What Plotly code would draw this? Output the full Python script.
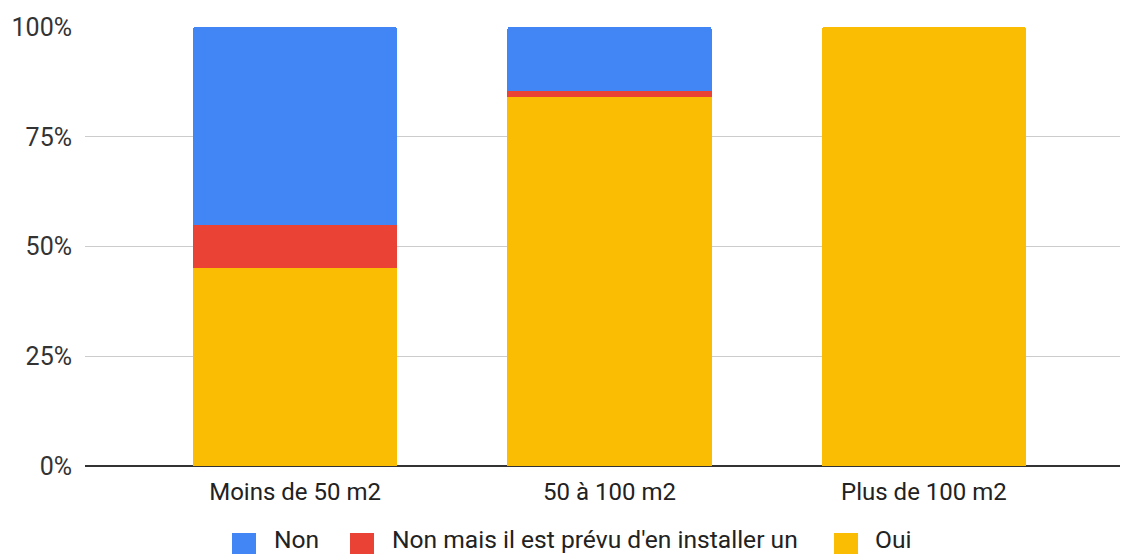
import plotly.graph_objects as go

categories = ["Moins de 50 m2", "50 à 100 m2", "Plus de 100 m2"]
oui = [45.0, 84.1, 100.0]
non_prevu = [10.0, 1.4, 0.0]
non = [45.0, 14.5, 0.0]
y_ticks = [0, 25, 50, 75, 100]
y_tick_labels = [f"{v}%" for v in y_ticks]

series = [
    ("Oui", oui, "#FBBC04"),
    ("Non mais il est prévu d'en installer un", non_prevu, "#EA4335"),
    ("Non", non, "#4285F4"),
]

# page has an 8px body margin; size the figure so it ends at the window edge
OFF = 8
W, H = 1128 - OFF, 554 - OFF
L, R, T, B = 85 - OFF, 0, 27 - OFF, 88
PW, PH = W - L - R, H - T - B


def px_x(sx):
    return (sx - OFF - L) / PW


def px_y(sy):
    return (H - B - (sy - OFF)) / PH


fig = go.Figure()
for name, vals, color in series:
    fig.add_trace(go.Bar(x=categories, y=vals, name=name, marker_color=color,
                         marker_line_width=0, width=0.65, showlegend=False))

# legend drawn as boxes + labels (screen pixel positions)
legend_items = list(reversed(series))
square_x = [232, 350, 834]
text_x = [272, 390, 873]
ly_center = 539
for (name, _, color), sx, tx in zip(legend_items, square_x, text_x):
    fig.add_shape(type="rect", xref="paper", yref="paper",
                  x0=px_x(sx), x1=px_x(sx + 24),
                  y0=px_y(556), y1=px_y(533),
                  fillcolor=color, line_width=0, layer="above")
    fig.add_annotation(text=name, xref="paper", yref="paper",
                       x=px_x(tx), y=px_y(ly_center),
                       xanchor="left", yanchor="middle", showarrow=False,
                       font=dict(size=24.6, color="#222222"))

fig.update_layout(
    barmode="stack",
    barcornerradius=3,
    width=W, height=H,
    margin=dict(l=L, r=R, t=T, b=B, autoexpand=False),
    plot_bgcolor="white", paper_bgcolor="white",
    font=dict(family="Roboto, Liberation Sans, Arial", size=24, color="#222222"),
    showlegend=False,
    xaxis=dict(range=[-0.668, 2.649], showgrid=False, ticks="", showline=False,
               automargin=False, tickfont=dict(size=24, color="#222222"),
               ticklabelstandoff=9),
    yaxis=dict(range=[0, 100], tickvals=y_ticks, ticktext=y_tick_labels,
               showgrid=True, gridcolor="#cccccc", gridwidth=1,
               zeroline=True, zerolinecolor="#333333", zerolinewidth=1.5,
               showline=False, ticks="", automargin=False,
               tickfont=dict(size=25, color="#333333"), ticklabelstandoff=12),
)

fig.write_html("out.html")
